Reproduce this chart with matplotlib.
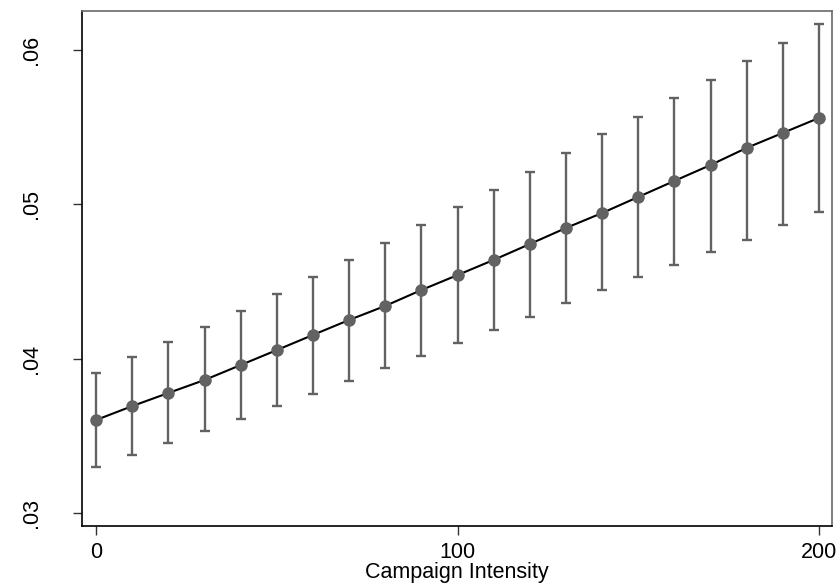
import numpy as np
import matplotlib
matplotlib.use("Agg")
import matplotlib.pyplot as plt

plt.rcParams['font.family'] = ['Liberation Sans', 'DejaVu Sans']

# campaign intensity levels and predicted margins with 95% CI
intensity = [0, 10, 20, 30, 40, 50, 60, 70, 80, 90, 100,
             110, 120, 130, 140, 150, 160, 170, 180, 190, 200]
margin = [0.03603, 0.03693, 0.03778, 0.03862, 0.03959, 0.04056, 0.04154,
          0.04251, 0.04342, 0.04445, 0.04542, 0.04640, 0.04743, 0.04847,
          0.04944, 0.05048, 0.05152, 0.05255, 0.05366, 0.05463, 0.05560]
ci_upper = [0.03907, 0.04011, 0.04108, 0.04205, 0.04309, 0.04419, 0.04529,
            0.04640, 0.04750, 0.04866, 0.04983, 0.05093, 0.05210, 0.05333,
            0.05456, 0.05566, 0.05690, 0.05806, 0.05929, 0.06046, 0.06169]
ci_lower = [0.03298, 0.03376, 0.03454, 0.03531, 0.03609, 0.03693, 0.03771,
            0.03855, 0.03940, 0.04017, 0.04102, 0.04186, 0.04270, 0.04361,
            0.04445, 0.04529, 0.04607, 0.04692, 0.04769, 0.04866, 0.04951]

y_ticks = [0.03, 0.04, 0.05, 0.06]
y_labels = ['.03', '.04', '.05', '.06']
x_ticks = [0, 100, 200]

x = np.array(intensity)
m = np.array(margin)
err = [m - np.array(ci_lower), np.array(ci_upper) - m]

fig = plt.figure(figsize=(8.36, 5.87), dpi=100)
ax = fig.add_axes([0.0981, 0.1039, 0.8971, 0.8774])

gray = '#626262'
ax.errorbar(x, m, yerr=err, fmt='none', ecolor=gray, elinewidth=1.7,
            capsize=3.4, capthick=1.7, zorder=2)
ax.plot(x, m, color='black', lw=1.5, zorder=3)
ax.plot(x, m, 'o', color=gray, ms=8, zorder=4)

ax.set_xlim(-3.9, 203.6)
ax.set_ylim(0.02916, 0.06253)
ax.set_xticks(x_ticks)
ax.set_yticks(y_ticks)
ax.set_yticklabels(y_labels, rotation=90, va='center')
ax.tick_params(axis='both', direction='out', length=6.5, width=1,
               labelsize=15.5, color='#333333')
ax.tick_params(axis='y', pad=22)
ax.tick_params(axis='x', pad=5)
ax.set_xlabel('Campaign Intensity', fontsize=15.5, labelpad=-1)

for side in ['left', 'bottom']:
    ax.spines[side].set_color('black')
    ax.spines[side].set_linewidth(1.2)
for side in ['top', 'right']:
    ax.spines[side].set_color('#6a6a6a')
    ax.spines[side].set_linewidth(1.2)

plt.savefig('out.png', dpi=100)
